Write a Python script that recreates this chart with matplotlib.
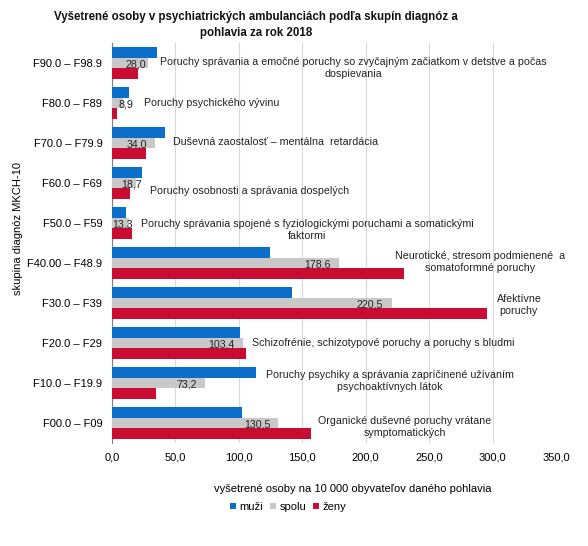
import matplotlib
matplotlib.use("Agg")
import matplotlib.pyplot as plt
import numpy as np

plt.rcParams['font.family'] = ['Liberation Sans', 'DejaVu Sans']

categories = ["F90.0 – F98.9", "F80.0 – F89", "F70.0 – F79.9", "F60.0 – F69", "F50.0 – F59",
              "F40.00 – F48.9", "F30.0 – F39", "F20.0 – F29", "F10.0 – F19.9", "F00.0 – F09"]
muzi = [35.2, 13.4, 41.5, 23.6, 11.0, 124.5, 141.9, 100.9, 113.5, 102.5]
spolu = [28.0, 8.9, 34.0, 18.7, 13.3, 178.6, 220.5, 103.4, 73.2, 130.5]
zeny = [20.5, 3.7, 26.5, 14.2, 15.8, 230.2, 295.6, 105.6, 34.7, 156.9]
descriptions = [
    "Poruchy správania a emočné poruchy so zvyčajným začiatkom v detstve a počas\ndospievania",
    "Poruchy psychického vývinu",
    "Duševná zaostalosť – mentálna  retardácia",
    "Poruchy osobnosti a správania dospelých",
    "Poruchy správania spojené s fyziologickými poruchami a somatickými\nfaktormi",
    "Neurotické, stresom podmienené  a\nsomatoformné poruchy",
    "Afektívne\nporuchy",
    "Schizofrénie, schizotypové poruchy a poruchy s bludmi",
    "Poruchy psychiky a správania zapríčinené užívaním\npsychoaktívnych látok",
    "Organické duševné poruchy vrátane\nsymptomatických",
]
xticks = [0, 50, 100, 150, 200, 250, 300, 350]

# label placement (positions only)
desc_x = [190, 78.8, 129, 108.8, 153.7, 290, 320.8, 213.6, 219, 231]
desc_dy = [0.13, 0.0, -0.02, 0.2, 0.17, -0.02, 0.05, 0.0, -0.05, 0.1]
val_dx_px = [-1, 10, -8, 6, 4, -8, -9, -9, -8, -7]

c_blue = "#0A6ECB"
c_gray = "#C8C8C8"
c_red = "#C80C32"

fig = plt.figure(figsize=(5.88, 5.46), dpi=100)
ax = fig.add_axes([112/588, 1-443/546, 444/588, 400/546])

y = np.arange(len(categories))
h = 0.262
ax.barh(y - h, muzi, height=h, color=c_blue, label="muži", zorder=3)
ax.barh(y, spolu, height=h, color=c_gray, label="spolu", zorder=3)
ax.barh(y + h, zeny, height=h, color=c_red, label="ženy", zorder=3)

for i, v in enumerate(spolu):
    ax.annotate(f"{v:.1f}".replace(".", ","), xy=(v, y[i]), xytext=(val_dx_px[i] * 0.72, -0.8),
                textcoords="offset points", ha="right", va="center", fontsize=7.7,
                color="#222222", zorder=4)

for i, t in enumerate(descriptions):
    ax.text(desc_x[i], y[i] + desc_dy[i], t, ha="center", va="center", fontsize=7.65,
            color="#222222", linespacing=1.3, zorder=4)

ax.set_xlim(0, 350)
ax.set_ylim(len(categories) - 0.5, -0.5)
ax.set_xticks(xticks)
ax.set_xticklabels([f"{v:.1f}".replace(".", ",") for v in xticks], fontsize=8)
ax.set_yticks(y)
ax.set_yticklabels(categories, fontsize=8)
ax.tick_params(axis="x", length=0, pad=7)
ax.tick_params(axis="y", length=0, pad=7)
ax.grid(axis="x", color="#D9D9D9", linewidth=0.8, zorder=0)
for s in ["top", "right", "bottom"]:
    ax.spines[s].set_visible(False)
ax.spines["left"].set_color("#808080")
ax.spines["left"].set_linewidth(0.8)

fig.text(256/588, 1-25/546, "Vyšetrené osoby v psychiatrických ambulanciách podľa skupín diagnóz a\npohlavia za rok 2018",
         ha="center", va="center", fontsize=8.3, fontweight="bold", linespacing=1.5,
         color="#111111")
fig.text(353/588, 1-489/546, "vyšetrené osoby na 10 000 obyvateľov daného pohlavia",
         ha="center", va="center", fontsize=8)
fig.text(18/588, 1-228/546, "skupina diagnóz MKCH-10", rotation=90, ha="center", va="center", fontsize=8)

fig.legend(loc="center", bbox_to_anchor=(288/588, 1-507/546), ncol=3, frameon=False,
           fontsize=8, handlelength=0.55, handleheight=0.55, handletextpad=0.3, columnspacing=0.6)

fig.savefig("out.png", dpi=100)
